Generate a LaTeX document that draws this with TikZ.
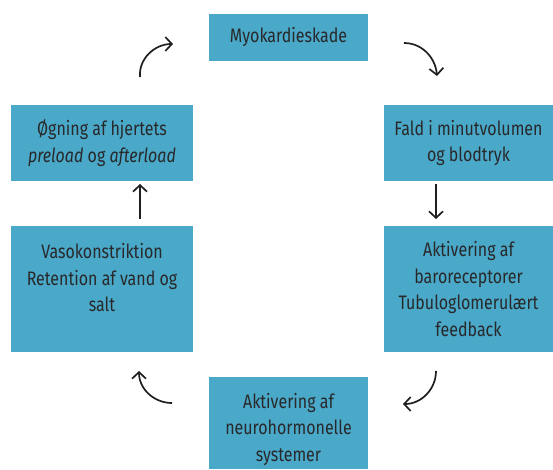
\documentclass[tikz,border=0pt]{standalone}
\usepackage{fontspec}
\setmainfont[FakeStretch=0.82]{Fira Sans}
\usetikzlibrary{arrows.meta}
\definecolor{boxblue}{RGB}{74,168,200}
\definecolor{txt}{RGB}{40,40,42}
\begin{document}
\begin{tikzpicture}[x=1pt,y=-1pt,
  box/.style={fill=boxblue, draw=none, inner sep=0pt, minimum width=#1},
  lbl/.style={text=txt, align=center, inner sep=0pt, font=\fontsize{19.5}{26.5}\selectfont},
  arr/.style={line width=1.7pt, draw=black!88, -{Straight Barb[length=6.5pt,width=14pt,line width=1.7pt]}}]
\useasboundingbox (0,0) rectangle (553,469);
% boxes
\node[box=159, minimum height=47, lbl] (top) at (288.5,37) {Myokardieskade};
\node[box=169, minimum height=76, lbl] (fald) at (468.5,143) {Fald i minutvolumen\\og blodtryk};
\node[box=169, minimum height=126, lbl] (baro) at (468.5,289) {Aktivering af\\baroreceptorer\\Tubuloglomerulært\\feedback};
\node[box=159, minimum height=92] (neuro) at (288.5,423) {};
\node[lbl] (neurot) at (288.5,429) {Aktivering af\\neurohormonelle\\systemer};
\node[box=182, minimum height=126] (vaso) at (102,289) {};
\node[lbl] (vasot) at (102,278) {Vasokonstriktion\\Retention af vand og\\salt};
\node[box=182, minimum height=76, lbl] (oeg) at (102,143) {Øgning af hjertets\\\textit{preload} og \textit{afterload}};
% arrows
\coordinate (a1s) at (140,77); \coordinate (a1e) at (173,44);
\coordinate (a2s) at (404,43); \coordinate (a2e) at (437,76);
\coordinate (a3s) at (436,184); \coordinate (a3e) at (436,219);
\coordinate (a4s) at (436,371); \coordinate (a4e) at (403,404);
\coordinate (a5s) at (172,403); \coordinate (a5e) at (139,371);
\coordinate (a6s) at (140,219); \coordinate (a6e) at (140,184);
\draw[arr] (a1s) to[out=95,in=180] (a1e);
\draw[arr] (a2s) to[out=0,in=95] (a2e);
\draw[arr] (a3s) -- (a3e);
\draw[arr] (a4s) to[out=-90,in=0] (a4e);
\draw[arr] (a5s) to[out=180,in=-90] (a5e);
\draw[arr] (a6s) -- (a6e);
\end{tikzpicture}
\end{document}
